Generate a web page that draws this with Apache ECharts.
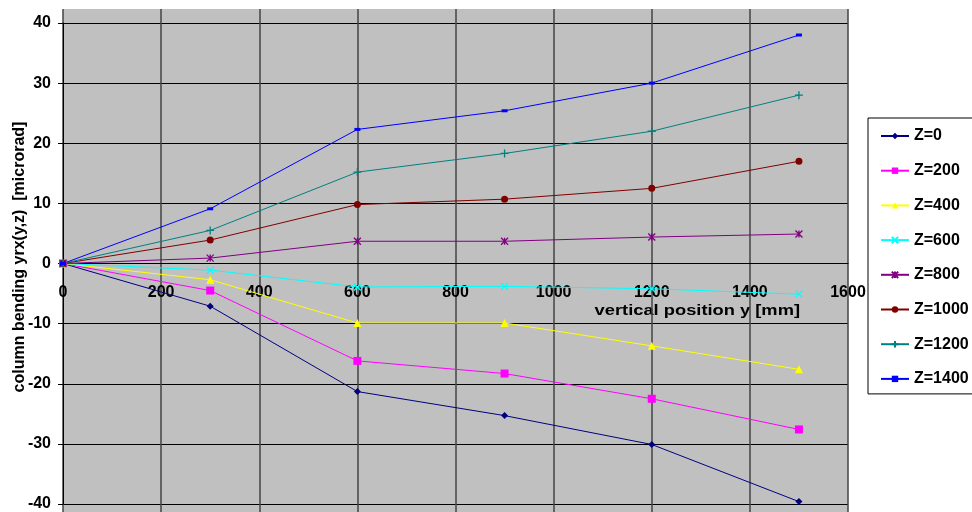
<!DOCTYPE html>
<html>
<head>
<meta charset="utf-8">
<script src="https://cdn.jsdelivr.net/npm/echarts@6/dist/echarts.min.js"></script>
<style>html,body{margin:0;padding:0;background:#fff}#c{width:972px;height:512px}</style>
</head>
<body>
<div id="c"></div>
<script>
var xValues = [0, 300, 600, 900, 1200, 1500];
var seriesNames = ['Z=0', 'Z=200', 'Z=400', 'Z=600', 'Z=800', 'Z=1000', 'Z=1200', 'Z=1400'];
var z0 = [0, -7.1, -21.3, -25.3, -30.1, -39.6];
var z200 = [0, -4.5, -16.2, -18.3, -22.5, -27.6];
var z400 = [0, -2.7, -9.9, -9.9, -13.7, -17.6];
var z600 = [0, -1.1, -3.9, -3.8, -4.2, -5.1];
var z800 = [0, 0.9, 3.7, 3.7, 4.4, 4.9];
var z1000 = [0, 3.9, 9.8, 10.7, 12.5, 17.0];
var z1200 = [0, 5.5, 15.2, 18.3, 22.0, 28.0];
var z1400 = [0, 9.1, 22.3, 25.4, 30.0, 38.0];
var allValues = [z0, z200, z400, z600, z800, z1000, z1200, z1400];
var xTicks = [0, 200, 400, 600, 800, 1000, 1200, 1400, 1600];
var yTicks = [-40, -30, -20, -10, 0, 10, 20, 30, 40];

var colors = ['#000080', '#FF00FF', '#FFFF00', '#00FFFF', '#800080', '#800000', '#008080', '#0000FF'];
var symbols = [
  'diamond', 'rect', 'triangle',
  'path://M0,0L10,10M10,0L0,10',
  'path://M0,0L10,10M10,0L0,10M5,0L5,10',
  'circle',
  'path://M5,0L5,10M0,5L10,5',
  'rect'
];
var sizes = [7, 8, 8, 7, 7, 7, 8, [6, 3]];
var stroked = [false, false, false, true, true, false, true, false];

var FONT = '"Liberation Sans", Arial, sans-serif';

var series = seriesNames.map(function (n, i) {
  return {
    name: n,
    type: 'line',
    xAxisIndex: 0, yAxisIndex: 0,
    data: xValues.map(function (x, j) { return [x, allValues[i][j]]; }),
    symbol: symbols[i],
    symbolSize: sizes[i],
    showAllSymbol: true,
    lineStyle: { color: colors[i], width: 1 },
    itemStyle: stroked[i]
      ? { color: colors[i], borderColor: colors[i], borderWidth: 1.3 }
      : { color: colors[i], borderColor: colors[i], borderWidth: 0 },
    emphasis: { disabled: true },
    animation: false
  };
});

var chart = echarts.init(document.getElementById('c'), null, { renderer: 'canvas' });
chart.setOption({
  animation: false,
  color: colors,
  grid: [
    { left: 63, right: 124, top: 23, bottom: 8, containLabel: false, outerBoundsMode: 'none' },
    { left: 63, right: 124, top: 9, bottom: 0, containLabel: false, outerBoundsMode: 'none' }
  ],
  xAxis: [{
    gridIndex: 0,
    type: 'value', min: xTicks[0], max: xTicks[xTicks.length - 1], interval: 200,
    position: 'bottom', offset: -240.5,
    axisLine: { onZero: false, lineStyle: { color: '#000', width: 1 } },
    axisTick: { show: false },
    axisLabel: { margin: 21, color: '#000', fontFamily: FONT, fontWeight: 'bold', fontSize: 16,
      formatter: function (v) { return String(v); } },
    splitLine: { show: false }
  }, {
    gridIndex: 1,
    type: 'value', min: xTicks[0], max: xTicks[xTicks.length - 1], interval: 200,
    axisLine: { show: false }, axisTick: { show: false }, axisLabel: { show: false },
    splitLine: { show: true, lineStyle: { color: '#444', width: 1.5 } }
  }],
  yAxis: [{
    gridIndex: 0,
    type: 'value', min: yTicks[0], max: yTicks[yTicks.length - 1], interval: 10,
    axisLine: { show: true, onZero: false, lineStyle: { color: '#000', width: 1 } },
    axisTick: { show: true, inside: false, length: 5, lineStyle: { color: '#000' } },
    axisLabel: { margin: 12, color: '#000', fontFamily: FONT, fontWeight: 'bold', fontSize: 16,
      formatter: function (v) { return String(v); } },
    splitLine: { show: true, lineStyle: { color: '#000', width: 1 } }
  }, {
    gridIndex: 1, type: 'value', min: 0, max: 1, show: false, splitLine: { show: false }
  }],
  legend: {
    orient: 'vertical', left: 868, top: 118,
    padding: [10, 5, 7, 12], itemGap: 18.7, itemWidth: 28, itemHeight: 8,
    backgroundColor: '#fff', borderColor: '#000', borderWidth: 1, borderRadius: 0,
    textStyle: { color: '#000', fontFamily: FONT, fontWeight: 'bold', fontSize: 16, lineHeight: 8 },
    data: seriesNames
  },
  graphic: [
    { type: 'rect', z: -100, silent: true, shape: { x: 63, y: 9, width: 785, height: 503 }, style: { fill: '#C0C0C0' } },
    { type: 'text', x: 800, y: 311, scaleX: 1.22, silent: true,
      style: { text: 'vertical position y [mm]', textAlign: 'right', textVerticalAlign: 'middle', font: 'bold 15px ' + FONT, fill: '#000' } },
    { type: 'text', x: 20, y: 257, rotation: Math.PI / 2, silent: true,
      style: { text: 'column bending yrx(y,z)  [microrad]', textAlign: 'center', textVerticalAlign: 'middle', font: 'bold 16px ' + FONT, fill: '#000' } }
  ],
  series: series
});
</script>
</body>
</html>
